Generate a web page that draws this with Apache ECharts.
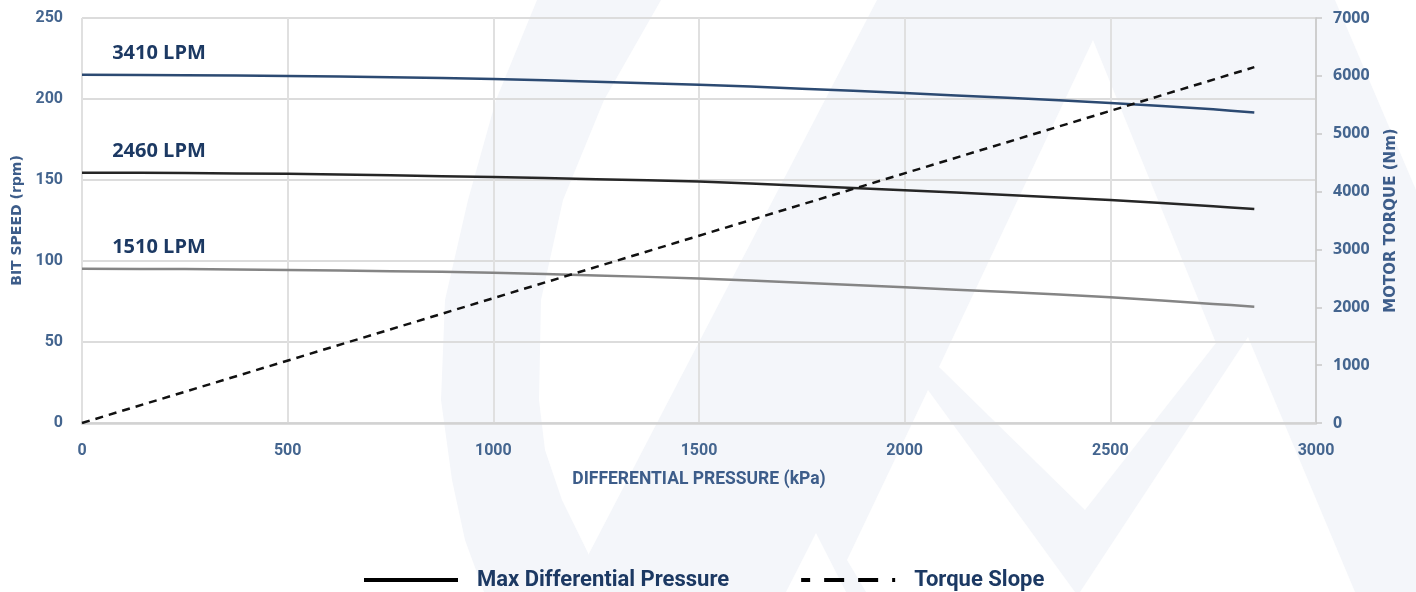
<!DOCTYPE html>
<html><head><meta charset="utf-8">
<script src="https://cdn.jsdelivr.net/npm/echarts@6/dist/echarts.min.js"></script>
<style>html,body{margin:0;padding:0;background:#fff}#c{width:1416px;height:592px}</style>
</head><body><div id="c"></div>
<script>
// ---- data ----
const pressure   = [0, 250, 500, 750, 1000, 1250, 1500, 1750, 2000, 2250, 2500, 2750, 2850];
const speed3410  = [215, 214.7, 214.2, 213.4, 212.3, 210.7, 208.8, 206.4, 203.7, 200.7, 197.6, 193.6, 191.7];
const speed2460  = [154.5, 154.3, 153.8, 152.9, 151.8, 150.5, 149, 146.5, 143.7, 140.8, 137.6, 133.8, 132.1];
const speed1510  = [95.2, 95, 94.4, 93.7, 92.8, 91.1, 89.2, 86.6, 83.8, 80.8, 77.6, 73.5, 71.8];
const torquePressure = [0, 2850];
const torqueValues   = [0, 6150];
const flowLabels  = ['3410 LPM', '2460 LPM', '1510 LPM'];
const legendNames = ['Max Differential Pressure', 'Torque Slope'];
const xTicks = [0, 500, 1000, 1500, 2000, 2500, 3000];

// ---- styles ----
const axisBlue = '#44658f';
const nameBlue = '#3d5d8a';
const labelNavy = '#1c3963';
const shade = '#f4f6fa';
const plain = v => String(v);

function speedSeries(values, label, color) {
  return {
    name: legendNames[0], type: 'line', yAxisIndex: 0, smooth: 0.3,
    symbol: 'none', data: pressure.map((p, i) => [p, values[i]]),
    lineStyle: { color: color, width: 2.5 }, itemStyle: { color: color },
    markPoint: {
      silent: true, symbol: 'circle', symbolSize: 0,
      itemStyle: { color: 'transparent' },
      label: {
        show: true, formatter: label, position: 'top', offset: [77, -6],
        fontFamily: 'Open Sans', fontWeight: 'bold', fontSize: 20, color: labelNavy
      },
      data: [{ coord: [pressure[0], values[0]] }]
    },
    z: 3
  };
}

const poly = (pts, fill) => ({ type: 'polygon', z: -10, silent: true, shape: { points: pts }, style: { fill: fill } });

const chart = echarts.init(document.getElementById('c'), null, { renderer: 'canvas' });
chart.setOption({
  animation: false,
  backgroundColor: '#ffffff',
  graphic: { elements: [
    poly([[537,0],[496,100],[468,200],[445,300],[441,400],[452,480],[465,540],[484,592],
          [600,592],[588,553],[562,500],[545,450],[539,400],[541,300],[563,200],[604,100],[661,0]], shade),
    poly([[877,0],[1335,0],[1416,190],[1416,592],[569,592]], shade),
    poly([[1093,40],[939,367],[1085,510],[1216,343]], '#ffffff'),
    poly([[928,390],[847,560],[866,592],[1075,592]], '#ffffff'),
    poly([[816,533],[786,592],[846,592]], '#ffffff'),
    poly([[1248,337],[1080,592],[1355,592]], '#ffffff')
  ]},
  grid: { left: 82, right: 100, top: 18, bottom: 169, containLabel: false },
  legend: {
    left: 357, top: 564, itemWidth: 94, itemHeight: 22, itemGap: 70,
    data: [
      { name: legendNames[0], itemStyle: { opacity: 0 }, lineStyle: { color: '#000', width: 4, type: 'solid' } },
      { name: legendNames[1], itemStyle: { opacity: 0 }, lineStyle: { color: '#000', width: 4, type: [20, 14], dashOffset: 11 } }
    ],
    textStyle: { fontFamily: 'Roboto', fontWeight: 'bold', fontSize: 22, color: labelNavy, padding: [0, 0, 0, 14] }
  },
  xAxis: {
    type: 'value', min: xTicks[0], max: xTicks[xTicks.length - 1], interval: 500,
    name: 'DIFFERENTIAL PRESSURE (kPa)', nameLocation: 'middle', nameGap: 48,
    nameTextStyle: { fontFamily: 'Roboto', fontWeight: 'bold', fontSize: 17.5, color: nameBlue },
    axisLine: { show: true, lineStyle: { color: '#d2d2d2', width: 2.5 } },
    axisTick: { show: false },
    axisLabel: { margin: 20, formatter: plain, fontFamily: 'Roboto', fontWeight: 'bold', fontSize: 16, color: axisBlue },
    splitLine: { show: true, lineStyle: { color: '#e0e0e0', width: 2 } }
  },
  yAxis: [
    {
      type: 'value', min: 0, max: 250, interval: 50, position: 'left',
      name: 'BIT SPEED (rpm)', nameLocation: 'middle', nameGap: 56,
      nameTextStyle: { fontFamily: 'DejaVu Sans', fontWeight: 'bold', fontSize: 14, color: nameBlue },
      axisLine: { show: false }, axisTick: { show: false },
      axisLabel: { margin: 19, formatter: plain, fontFamily: 'Roboto', fontWeight: 'bold', fontSize: 16, color: axisBlue },
      splitLine: { show: true, lineStyle: { color: '#dcdcdc', width: 2 } }
    },
    {
      type: 'value', min: 0, max: 7000, interval: 1000, position: 'right',
      name: 'MOTOR TORQUE (Nm)', nameLocation: 'middle', nameGap: 68,
      nameTextStyle: { fontFamily: 'DejaVu Sans', fontWeight: 'bold', fontSize: 15, color: nameBlue },
      axisLine: { show: true, lineStyle: { color: '#c8c8c8', width: 1.5 } },
      axisTick: { show: true, length: 6, lineStyle: { color: '#c8c8c8', width: 1.5 } },
      axisLabel: { margin: 17, formatter: plain, fontFamily: 'Open Sans', fontWeight: 'bold', fontSize: 16, color: axisBlue },
      splitLine: { show: false }
    }
  ],
  series: [
    speedSeries(speed3410, flowLabels[0], '#2c4a72'),
    speedSeries(speed2460, flowLabels[1], '#262626'),
    speedSeries(speed1510, flowLabels[2], '#858585'),
    {
      name: legendNames[1], type: 'line', yAxisIndex: 1, symbol: 'none',
      data: torquePressure.map((p, i) => [p, torqueValues[i]]),
      lineStyle: { color: '#111', width: 2.5, type: [8, 6] }, itemStyle: { color: '#111' },
      z: 4
    }
  ]
});
</script>
</body></html>
